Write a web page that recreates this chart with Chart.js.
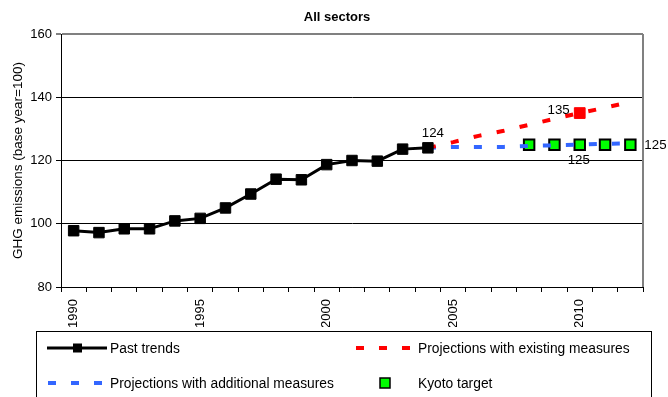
<!DOCTYPE html>
<html>
<head>
<meta charset="utf-8">
<script src="https://cdn.jsdelivr.net/npm/chart.js@4/dist/chart.umd.min.js"></script>
<style>
  html, body { margin: 0; padding: 0; background: #fff; }
  canvas { display: block; }
</style>
</head>
<body>
<canvas id="chart" width="668" height="397"></canvas>
<script>
// Years on the category axis
const years = ['1990','1991','1992','1993','1994','1995','1996','1997','1998','1999','2000',
               '2001','2002','2003','2004','2005','2006','2007','2008','2009','2010','2011','2012'];
// Years that carry a tick label
const labelledYears = ['1990','1995','2000','2005','2010'];

// GHG emissions index (base year = 100)
const pastTrends = [97.8, 97.2, 98.4, 98.4, 100.9, 101.7, 105.0, 109.4, 114.1, 113.9, 118.7,
                    120.0, 119.8, 123.6, 124, null, null, null, null, null, null, null, null];
const existingMeasures = [null, null, null, null, null, null, null, null, null, null, null,
                          null, null, null, 124, 125.8, 127.8, 129.4, 131.3, 133.2, 135, 136.7, 138.5];
const additionalMeasures = [null, null, null, null, null, null, null, null, null, null, null,
                            null, null, null, 124, 124.3, 124.3, 124.3, 124.6, 124.8, 125, 125.3, 125.4];
const kyotoTarget = [null, null, null, null, null, null, null, null, null, null, null,
                     null, null, null, null, null, null, null, 125, 125, 125, 125, 125];

// Points whose value is written next to them: [dataset index, year]
const valueLabelled = [[0, '2004'], [1, '2010'], [2, '2010'], [3, '2012']];

const FONT = '"Liberation Sans", Arial, sans-serif';

// Marker only at 2010 on the existing-measures line
const existingRadius = years.map(y => (y === '2010' ? 7.6 : 0));

const frameLines = {
  id: 'frameLines',
  beforeDatasetsDraw(chart) {
    const { ctx, chartArea: a } = chart;
    ctx.save();
    ctx.strokeStyle = '#808080';
    ctx.lineWidth = 2;
    ctx.beginPath();
    ctx.moveTo(a.right, a.top);
    ctx.lineTo(a.right, a.bottom);
    ctx.stroke();
    ctx.restore();
  }
};

const titleText = {
  id: 'titleText',
  afterDraw(chart) {
    const ctx = chart.ctx;
    ctx.save();
    ctx.font = 'bold 13px ' + FONT;
    ctx.fillStyle = '#000';
    ctx.textAlign = 'center';
    ctx.textBaseline = 'middle';
    ctx.fillText('All sectors', 337, 17.5);
    ctx.restore();
  }
};

const valueLabels = {
  id: 'valueLabels',
  afterDatasetsDraw(chart) {
    const ctx = chart.ctx;
    ctx.save();
    ctx.font = '13.3px ' + FONT;
    ctx.fillStyle = '#000';
    ctx.textBaseline = 'middle';
    valueLabelled.forEach(([ds, year]) => {
      const idx = years.indexOf(year);
      const pt = chart.getDatasetMeta(ds).data[idx];
      const text = String(Math.round(chart.data.datasets[ds].data[idx]));
      if (ds === 0) {            // above the point
        ctx.textAlign = 'center';
        ctx.fillText(text, pt.x + 5, pt.y - 15);
      } else if (ds === 1) {     // to the left
        ctx.textAlign = 'right';
        ctx.fillText(text, pt.x - 10, pt.y - 3);
      } else if (ds === 2) {     // below
        ctx.textAlign = 'center';
        ctx.fillText(text, pt.x - 1, pt.y + 16);
      } else {                   // to the right
        ctx.textAlign = 'left';
        ctx.fillText(text, pt.x + 14, pt.y + 1);
      }
    });
    ctx.restore();
  }
};

const boxLegend = {
  id: 'boxLegend',
  afterDraw(chart) {
    const ctx = chart.ctx;
    const ds = chart.data.datasets;
    ctx.save();
    ctx.strokeStyle = '#000';
    ctx.lineWidth = 1;
    ctx.strokeRect(36.5, 331.5, 615, 80);

    const row1 = 348, row2 = 383;
    ctx.font = '13.8px ' + FONT;
    ctx.fillStyle = '#000';
    ctx.textBaseline = 'middle';
    ctx.textAlign = 'left';

    // Past trends
    ctx.strokeStyle = ds[0].borderColor;
    ctx.lineWidth = 3;
    ctx.beginPath(); ctx.moveTo(47, row1); ctx.lineTo(107, row1); ctx.stroke();
    ctx.fillStyle = ds[0].pointBackgroundColor;
    ctx.fillRect(73, row1 - 4.5, 9, 9);
    ctx.fillStyle = '#000';
    ctx.fillText(ds[0].label, 110, row1 + 1);

    // Existing measures
    ctx.strokeStyle = ds[1].borderColor;
    ctx.lineWidth = 4;
    ctx.setLineDash([8, 15]);
    ctx.beginPath(); ctx.moveTo(356, row1); ctx.lineTo(412, row1); ctx.stroke();
    ctx.fillText(ds[1].label, 418, row1 + 1);

    // Additional measures
    ctx.strokeStyle = ds[2].borderColor;
    ctx.setLineDash(ds[2].borderDash);
    ctx.beginPath(); ctx.moveTo(48, row2); ctx.lineTo(102, row2); ctx.stroke();
    ctx.setLineDash([]);
    ctx.fillText(ds[2].label, 110, row2 + 1);

    // Kyoto target
    ctx.fillStyle = ds[3].pointBackgroundColor;
    ctx.fillRect(380, row2 - 5, 10, 10);
    ctx.strokeStyle = '#000';
    ctx.lineWidth = 1.5;
    ctx.strokeRect(380, row2 - 5, 10, 10);
    ctx.fillStyle = '#000';
    ctx.fillText(ds[3].label, 418, row2 + 1);
    ctx.restore();
  }
};

new Chart(document.getElementById('chart'), {
  type: 'line',
  data: {
    labels: years,
    datasets: [
      {
        label: 'Past trends',
        data: pastTrends,
        borderColor: '#000',
        borderWidth: 3,
        pointStyle: 'rect',
        pointRadius: 7.4,
        pointBackgroundColor: '#000',
        pointBorderColor: '#000',
        pointBorderWidth: 1,
        tension: 0
      },
      {
        label: 'Projections with existing measures',
        data: existingMeasures,
        borderColor: '#ff0000',
        borderWidth: 4,
        borderDash: [8, 15.5],
        borderCapStyle: 'butt',
        pointStyle: 'rect',
        pointRadius: existingRadius,
        pointBackgroundColor: '#ff0000',
        pointBorderColor: '#ff0000',
        pointBorderWidth: 1,
        tension: 0
      },
      {
        label: 'Projections with additional measures',
        data: additionalMeasures,
        borderColor: '#3366ff',
        borderWidth: 4,
        borderDash: [8, 15],
        borderCapStyle: 'butt',
        pointRadius: 0,
        tension: 0
      },
      {
        label: 'Kyoto target',
        data: kyotoTarget,
        showLine: false,
        pointStyle: 'rect',
        pointRadius: 7.4,
        pointBackgroundColor: '#00ff00',
        pointBorderColor: '#000',
        pointBorderWidth: 2
      }
    ]
  },
  options: {
    responsive: false,
    animation: false,
    events: [],
    layout: { padding: { left: 0, top: 34, right: 25, bottom: 70 } },
    plugins: {
      legend: { display: false },
      title: { display: false },
      tooltip: { enabled: false }
    },
    scales: {
      x: {
        offset: true,
        afterFit(scale) { scale.height = 40; },
        grid: {
          offset: true,
          drawOnChartArea: false,
          drawTicks: true,
          tickLength: 5,
          color: '#000'
        },
        border: { color: '#000', width: 1 },
        ticks: {
          autoSkip: false,
          maxRotation: 90,
          minRotation: 90,
          padding: 7,
          color: '#000',
          font: { family: FONT, size: 13 },
          callback(value, index) {
            const y = years[index];
            return labelledYears.includes(y) ? y : '';
          }
        }
      },
      y: {
        min: 80,
        max: 160,
        afterFit(scale) { scale.width = 61; },
        grid: {
          color: c => (c.tick && c.tick.value === 160 ? '#808080' : '#000'),
          lineWidth: c => (c.tick && c.tick.value === 160 ? 2 : 1),
          tickLength: 5
        },
        border: { color: '#000', width: 1 },
        ticks: {
          stepSize: 20,
          padding: 4,
          color: '#000',
          font: { family: FONT, size: 13 }
        },
        title: {
          display: true,
          text: 'GHG emissions (base year=100)',
          color: '#000',
          font: { family: FONT, size: 13.5 },
          padding: { top: 10, bottom: 0 }
        }
      }
    }
  },
  plugins: [frameLines, valueLabels, titleText, boxLegend]
});
</script>
</body>
</html>
